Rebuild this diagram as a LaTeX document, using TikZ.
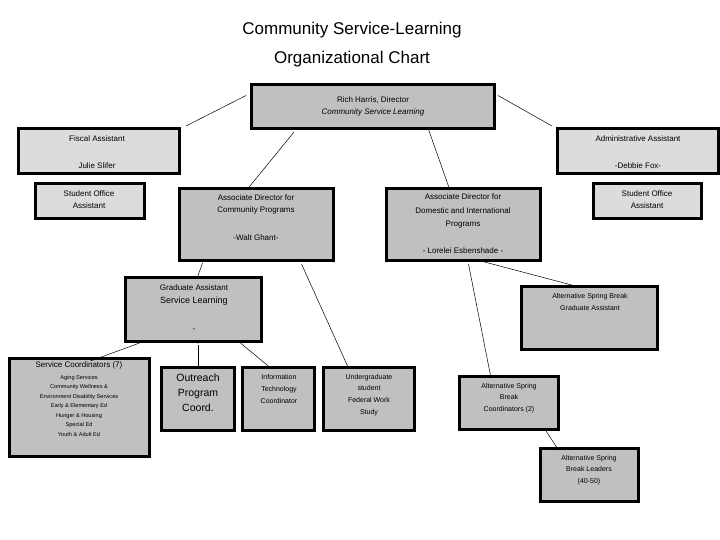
\documentclass[tikz,border=0pt]{standalone}
\usepackage{fontspec}
\setmainfont{Liberation Sans}
\usetikzlibrary{fit}
\definecolor{boxDark}{HTML}{C0C0C0}
\definecolor{boxLight}{HTML}{DCDCDC}
\tikzset{
  orgbox/.style={draw=black, line width=3.2pt, fill=boxDark, inner sep=-1.6pt},
  lightbox/.style={orgbox, fill=boxLight},
  txt/.style={align=center, inner sep=0pt, font=\fontsize{8}{12}\selectfont},
  small/.style={txt, font=\fontsize{7}{11.8}\selectfont},
  link/.style={draw=black, line width=0.5pt},
}
\begin{document}
\begin{tikzpicture}[x=1pt,y=-1pt]
\useasboundingbox (0,0) rectangle (720,540);
% title
\node[txt, font=\fontsize{17}{29}\selectfont] (title) at (352,45) {Community Service-Learning\\Organizational Chart};
% boxes
\node[orgbox, fit={(250,83)(496,130)}] (dir) {};
\node[lightbox, fit={(17,127)(181,175)}] (fisc) {};
\node[lightbox, fit={(556,127)(720,175)}] (adm) {};
\node[lightbox, fit={(34,182)(146,220)}] (soaL) {};
\node[lightbox, fit={(592,182)(703,220)}] (soaR) {};
\node[orgbox, fit={(178,187)(335,262)}] (acp) {};
\node[orgbox, fit={(385,187)(542,262)}] (adi) {};
\node[orgbox, fit={(124,276)(263,343)}] (grad) {};
\node[orgbox, fit={(520,285)(659,351)}] (asbg) {};
\node[orgbox, fit={(8,357)(151,458)}] (serv) {};
\node[orgbox, fit={(160,366)(236,432)}] (outr) {};
\node[orgbox, fit={(241,366)(316,432)}] (itc) {};
\node[orgbox, fit={(322,366)(416,432)}] (ugr) {};
\node[orgbox, fit={(458,375)(560,431)}] (asbc) {};
\node[orgbox, fit={(539,447)(640,503)}] (asbl) {};
% texts
\node[txt] (dirT) at (373,106) {Rich Harris, Director\\\textit{Community Service Learning}};
\node[txt] (fiscA) at (97,139) {Fiscal Assistant};
\node[txt] (fiscB) at (97,166) {Julie Slifer};
\node[txt] (admA) at (638,139) {Administrative Assistant};
\node[txt] (admB) at (638,166) {-Debbie Fox-};
\node[txt] (soaLT) at (89,200) {Student Office\\Assistant};
\node[txt] (soaRT) at (647,200) {Student Office\\Assistant};
\node[txt] (acpA) at (256,204) {Associate  Director for\\Community Programs};
\node[txt] (acpB) at (256,238) {-Walt Ghant-};
\node[txt, font=\fontsize{8}{13.5}\selectfont] (adiA) at (463,211) {Associate Director for\\Domestic and International\\Programs};
\node[txt] (adiB) at (463,251) {- Lorelei Esbenshade -};
\node[txt, font=\fontsize{9}{13}\selectfont] (gradA) at (194,295) {{\fontsize{8}{10}\selectfont Graduate Assistant}\\Service Learning};
\node[txt] (gradB) at (194,330) {-};
\node[txt] (gradC) at (198,344) {-};
\node[small, font=\fontsize{7}{12}\selectfont] (asbgT) at (590,302) {Alternative Spring Break\\Graduate Assistant};
\node[txt, anchor=north] (servA) at (79,362) {Service Coordinators (7)};
\node[txt, anchor=north, font=\fontsize{5.6}{9.5}\selectfont] (servB) at (79,375) {Aging Services\\Community Wellness \&\\Environment Disability Services\\Early \& Elementary Ed\\Hunger \& Housing\\Special Ed\\Youth \& Adult Ed};
\node[txt, font=\fontsize{10.5}{15}\selectfont] (outrT) at (198,393) {Outreach\\Program\\Coord.};
\node[small] (itcT) at (279,389) {Information\\Technology\\Coordinator};
\node[small] (ugrT) at (369,395) {Undergraduate\\student\\Federal Work\\Study};
\node[small] (asbcT) at (509,398) {Alternative Spring\\Break\\Coordinators (2)};
\node[small] (asblT) at (589,470) {Alternative Spring\\Break Leaders\\(40-50)};
% connectors
\draw[link] (dir.west) ++(-4,-11) coordinate (d1) -- ([shift={(5,-25)}]fisc.east);
\draw[link] (d1) ++(252,0) -- ([shift={(-4,-25)}]adm.west);
\draw[link] ([xshift=-79pt,yshift=-2pt]dir.south) -- ([xshift=-9pt,yshift=-2pt]acp.north);
\draw[link] ([xshift=55pt,yshift=2pt]dir.south) -- ([xshift=-14pt,yshift=-2pt]adi.north);
\draw[link] ([xshift=-54pt,yshift=-1pt]acp.south) -- ([xshift=4pt,yshift=-1pt]grad.north);
\draw[link] ([xshift=45pt,yshift=-2pt]acp.south) -- ([xshift=-21pt,yshift=-1pt]ugr.north);
\draw[link] ([xshift=5pt,yshift=-2pt]adi.south) -- ([xshift=-18pt,yshift=-3pt]asbc.north);
\draw[link] ([xshift=21pt]adi.south) -- ([xshift=-14pt,yshift=-1pt]asbg.north);
\draw[link] ([xshift=-54pt]grad.south) -- ([xshift=11pt,yshift=-4pt]serv.north);
\draw[link] (gradC.south) -- (outr.north);
\draw[link] ([xshift=47pt]grad.south) -- ([xshift=-9pt,yshift=-1pt]itc.north);
\draw[link] ([xshift=37pt]asbc.south) -- ([xshift=-31pt,yshift=-3pt]asbl.north);
\end{tikzpicture}
\end{document}
